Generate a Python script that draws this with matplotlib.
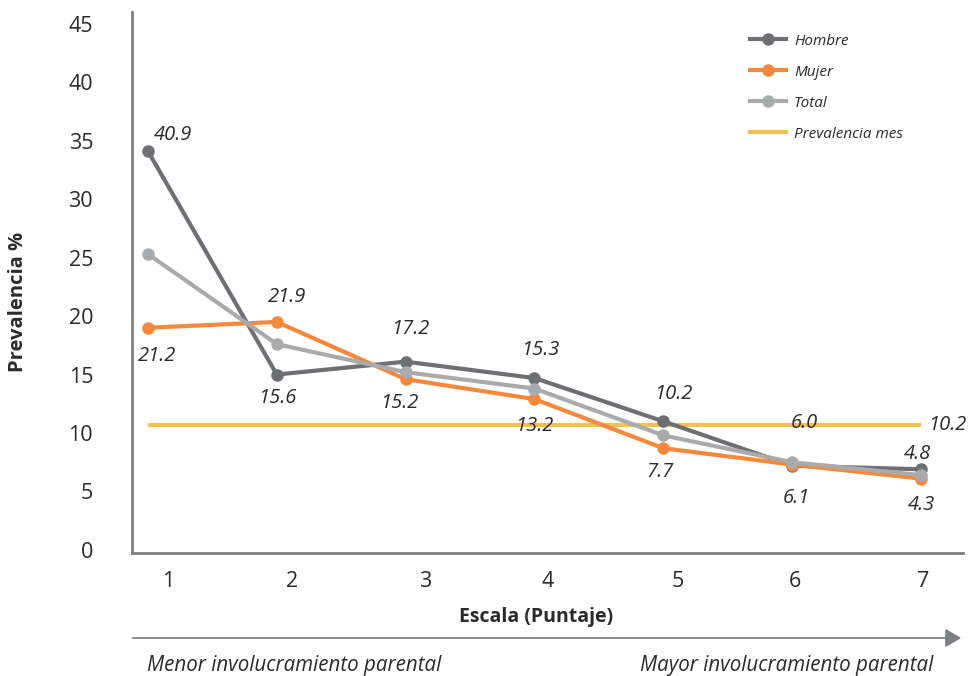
import matplotlib
matplotlib.use("Agg")
import matplotlib.pyplot as plt
from matplotlib.lines import Line2D
from matplotlib.patches import FancyArrowPatch
from matplotlib.transforms import ScaledTranslation

# Scale score and prevalence (%) per group
puntaje = [1, 2, 3, 4, 5, 6, 7]
hombre = [34.1, 15.0, 16.1, 14.7, 11.0, 7.2, 6.9]
mujer = [19.0, 19.5, 14.6, 12.9, 8.7, 7.3, 6.1]
total = [25.3, 17.6, 15.2, 13.8, 9.8, 7.5, 6.4]
prevalencia_mes = 10.7

# Printed value labels
etiquetas_hombre = ["40.9", "15.6", "17.2", "15.3", "10.2", "6.0", "4.8"]
etiquetas_mujer = ["21.2", "21.9", "15.2", "13.2", "7.7", "6.1", "4.3"]
etiqueta_prevalencia = "10.2"

y_ticks = [0, 5, 10, 15, 20, 25, 30, 35, 40, 45]

# label offsets in pixels (dx, dy)
off_hombre = [(25, 16), (0, -23), (5, 33), (6, 28), (10, 27), (12, 43), (-4, 15)]
off_mujer = [(9, -28), (10, 25), (-6, -24), (0, -27), (-3, -24), (4, -33), (0, -26)]
# horizontal nudge of the x tick labels, pixels
xtick_nudge = [20, 15, 20, 13, 14, 3, 2]

C_HOMBRE = "#6d6f72"
C_MUJER = "#f5883a"
C_TOTAL = "#a9aaac"
C_PREV = "#f0c44c"
C_AXIS = "#7d7f82"
C_TEXT = "#2a2a2a"

plt.rcParams["font.family"] = ["Open Sans", "DejaVu Sans"]

fig = plt.figure(figsize=(9.77, 6.76), dpi=100)
ax = fig.add_axes([132 / 977, 1 - 553 / 676, (963 - 132) / 977, (553 - 12) / 676])

lw = 3.0
ms = 8
ax.plot(puntaje, [prevalencia_mes] * len(puntaje), color=C_PREV, lw=lw,
        solid_capstyle="butt", zorder=2)
ax.plot(puntaje, hombre, color=C_HOMBRE, lw=lw, marker="o", ms=ms, zorder=3)
ax.plot(puntaje, total, color=C_TOTAL, lw=lw, marker="o", ms=ms, zorder=5)
ax.plot(puntaje, mujer, color=C_MUJER, lw=lw, marker="o", ms=ms, zorder=4)

lab_kw = dict(textcoords="offset pixels", ha="center", va="center",
              fontsize=14.5, style="italic", color=C_TEXT, zorder=6)
for x, y, t, (dx, dy) in zip(puntaje, hombre, etiquetas_hombre, off_hombre):
    ax.annotate(t, (x, y), xytext=(dx, dy), **lab_kw)
for x, y, t, (dx, dy) in zip(puntaje, mujer, etiquetas_mujer, off_mujer):
    ax.annotate(t, (x, y), xytext=(dx, dy), **lab_kw)
ax.annotate(etiqueta_prevalencia, (puntaje[-1], prevalencia_mes), xytext=(26, 0), **lab_kw)

ax.set_xlim(0.876, 7.326)
ax.set_ylim(-0.26, 46.0)
ax.set_yticks(y_ticks)
ax.set_yticklabels([str(v) for v in y_ticks])
ax.set_xticks(puntaje)
ax.set_xticklabels([str(v) for v in puntaje])
ax.tick_params(axis="both", length=0, labelsize=15.5, colors=C_TEXT)
ax.tick_params(axis="y", pad=28)
ax.tick_params(axis="x", pad=13)
for lbl, nudge in zip(ax.get_xticklabels(), xtick_nudge):
    lbl.set_transform(lbl.get_transform() + ScaledTranslation(nudge / 100, 0, fig.dpi_scale_trans))

for s in ("top", "right"):
    ax.spines[s].set_visible(False)
for s in ("left", "bottom"):
    ax.spines[s].set_color(C_AXIS)
    ax.spines[s].set_linewidth(2)

fig.text(18 / 977, 1 - 302 / 676, "Prevalencia %", rotation=90, ha="center", va="center",
         fontsize=14.5, fontweight="bold", color=C_TEXT)
fig.text(536 / 977, 1 - 617 / 676, "Escala (Puntaje)", ha="center", va="center",
         fontsize=14, fontweight="bold", color=C_TEXT)

# direction arrow under the axis
fig.add_artist(FancyArrowPatch(
    (130 / 977, 1 - 638 / 676), (964 / 977, 1 - 638 / 676), transform=fig.transFigure,
    arrowstyle="-|>,head_length=6,head_width=3.5", mutation_scale=1.6, color=C_AXIS, lw=1.3))
fig.text(147 / 977, 1 - 665 / 676, "Menor involucramiento parental", ha="left", va="center",
         fontsize=14.8, style="italic", color=C_TEXT)
fig.text(933 / 977, 1 - 665 / 676, "Mayor involucramiento parental", ha="right", va="center",
         fontsize=14.8, style="italic", color=C_TEXT)

handles = [
    Line2D([], [], color=C_HOMBRE, lw=lw, marker="o", ms=ms),
    Line2D([], [], color=C_MUJER, lw=lw, marker="o", ms=ms),
    Line2D([], [], color=C_TOTAL, lw=lw, marker="o", ms=ms),
    Line2D([], [], color=C_PREV, lw=lw),
]
leg = fig.legend(handles, ["Hombre", "Mujer", "Total", "Prevalencia mes"],
                 loc="upper left", bbox_to_anchor=(742 / 977, 1 - 26 / 676),
                 frameon=False, fontsize=11, handlelength=2.4, handletextpad=0.5,
                 labelspacing=1.05, borderpad=0)
for t in leg.get_texts():
    t.set_style("italic")
    t.set_color(C_TEXT)

fig.savefig("out.png", dpi=100)
